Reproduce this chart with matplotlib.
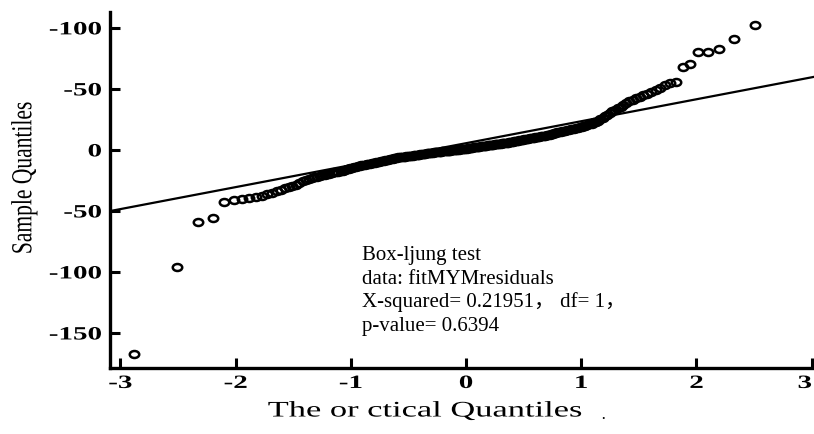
from statistics import NormalDist

import matplotlib
matplotlib.use("Agg")
import matplotlib.pyplot as plt
from matplotlib.patheffects import AbstractPathEffect
from matplotlib.path import Path
from matplotlib.transforms import Affine2D

# sorted residuals (sample quantiles)
sample = [
    -167, -96, -59, -56, -43, -41, -40, -39, -38.5, -37.5,
    -36, -35, -33.5, -32.5, -31.5, -30.5, -29.5, -28.5, -27, -25.5,
    -24.4, -23.8, -23.2, -22.6, -22.0, -21.4, -20.8, -20.2,
    -19.8, -19.4, -19.0, -18.5, -18.1, -17.7, -17.3, -16.9, -16.5, -16.0,
    -15.6, -15.2, -14.8, -14.4, -14.0, -13.5, -13.1, -12.7,
    -12.4, -12.1, -11.8, -11.6, -11.3, -11.0, -10.7, -10.5, -10.2, -9.9,
    -9.6, -9.4, -9.1, -8.8, -8.5, -8.3, -8.0, -7.7, -7.4, -7.2, -6.9, -6.6,
    -6.4, -6.2, -6.1, -5.9, -5.8, -5.6, -5.5, -5.3, -5.2, -5.0,
    -4.9, -4.7, -4.6, -4.4, -4.3, -4.1, -4.0, -3.8, -3.7, -3.5,
    -3.4, -3.2, -3.1, -2.9, -2.8, -2.6, -2.5,
    -2.4, -2.3, -2.1, -2.0, -1.9, -1.8, -1.7, -1.6, -1.4, -1.3,
    -1.2, -1.1, -1.0, -0.9, -0.7, -0.6, -0.5, -0.4, -0.3, -0.2,
    0.0, 0.1, 0.2, 0.3, 0.4, 0.5, 0.7, 0.8, 0.9, 1.0,
    1.1, 1.3, 1.4, 1.6, 1.7, 1.8, 2.0, 2.1, 2.3, 2.4,
    2.5, 2.7, 2.8, 3.0, 3.1, 3.2, 3.4, 3.5, 3.7, 3.8,
    3.9, 4.1, 4.2, 4.4, 4.5, 4.6, 4.8, 4.9, 5.1, 5.2,
    5.3, 5.5, 5.6, 5.8, 5.9, 6.0, 6.2, 6.3, 6.5,
    6.7, 6.9, 7.1, 7.3, 7.5, 7.8, 8.0, 8.2, 8.4, 8.6,
    8.8, 9.0, 9.2, 9.5, 9.7, 9.9, 10.1, 10.3, 10.5, 10.7,
    10.9, 11.2, 11.4, 11.6, 11.8, 12.0,
    12.3, 12.6, 13.0, 13.3, 13.6, 14.0, 14.3, 14.6, 14.9, 15.3,
    15.6, 15.9, 16.3, 16.6, 16.9, 17.2, 17.5, 17.8, 18.2, 18.5,
    19.0, 19.5, 20.0, 20.5, 21.0, 21.5,
    22.5, 23, 24, 25, 26, 27.5, 29, 30.5, 32, 33,
    34.5, 35.5, 37, 38.5, 40, 41, 42.5, 43.5, 45, 46,
    47.5, 49, 51, 53, 55, 56, 68, 70, 80, 80,
    83, 91, 102, 130,
]
line_intercept = 5.5
line_slope = 18.0

x_ticks = [-3, -2, -1, 0, 1, 2, 3]
x_tick_labels = ["-3", "-2", "-1", "0", "1", "2", "3"]
y_ticks = [100, 50, 0, -50, -100, -150]
y_tick_labels = ["-100", "-50", "0", "-50", "-100", "-150"]

test_lines = [
    "Box-ljung test",
    "data: fitMYMresiduals",
    "X-squared= 0.21951\uff0c df= 1\uff0c",
    "p-value= 0.6394",
]


class Stretch(AbstractPathEffect):
    # widen glyphs on screen, the scan of the original is stretched sideways
    def __init__(self, sx=1.0, sy=1.0, anchor=0.5):
        super().__init__()
        self.sx, self.sy, self.anchor = sx, sy, anchor

    def draw_path(self, renderer, gc, tpath, affine, rgbFace=None):
        ext = tpath.get_extents()
        cx = ext.x0 + self.anchor * ext.width
        cy = ext.y0 + 0.5 * ext.height
        t = Affine2D().translate(-cx, -cy).scale(self.sx, self.sy).translate(cx, cy)
        renderer.draw_path(gc, tpath, t + affine, rgbFace)


n = len(sample)
theo = [NormalDist().inv_cdf((i + 0.5) / n) for i in range(n)]

serif = "Liberation Serif"
fig = plt.figure(figsize=(8.14, 4.34), dpi=100)
ax = fig.add_axes([110 / 814, 66 / 434, 704 / 814, 356 / 434])

ellipse = Path(Affine2D().scale(1.35, 1.0).transform_path(Path.unit_circle()).vertices,
               Path.unit_circle().codes)
ax.plot(theo, sample, linestyle="none", marker=ellipse, ms=6.8,
        mfc="none", mec="black", mew=1.8, zorder=3)

xlim = (-3.09, 3.02)
ax.plot(list(xlim), [line_intercept + line_slope * v for v in xlim],
        color="black", lw=1.6, zorder=2)

ax.set_xlim(*xlim)
ax.set_ylim(-178.7, 113)
for side in ("top", "right"):
    ax.spines[side].set_visible(False)
for side in ("left", "bottom"):
    ax.spines[side].set_linewidth(2.4)

ax.set_xticks(x_ticks, x_tick_labels)
ax.set_yticks(y_ticks, y_tick_labels)
ax.tick_params(direction="in", length=7, width=2.2, labelsize=13.5)
ax.tick_params(axis="y", pad=6)
ax.tick_params(axis="x", pad=5)
xlabels = ax.get_xticklabels()
for lab in xlabels:
    lab.set_fontfamily(serif)
    lab.set_fontweight("bold")
    lab.set_path_effects([Stretch(sx=1.55, anchor=0.5)])
# last label sits at the right edge of the figure
xlabels[-1].set_horizontalalignment("right")
xlabels[-1].set_path_effects([Stretch(sx=1.55, anchor=1.0)])
for lab in ax.get_yticklabels():
    lab.set_fontfamily(serif)
    lab.set_fontweight("bold")
    lab.set_path_effects([Stretch(sx=1.55, anchor=1.0)])

fig.text(25 / 814, 1 - 178 / 434, "Sample Quantiles", rotation=90,
         ha="center", va="center", fontsize=15.5, family=serif,
         path_effects=[Stretch(sy=1.35)])
fig.text(425 / 814, 1 - 412 / 434, "The or ctical Quantiles",
         ha="center", va="center", fontsize=16, family=serif,
         path_effects=[Stretch(sx=1.55)])
fig.text(603 / 814, 1 - 420 / 434, "\u00b7", ha="center", va="center",
         fontsize=12, family=serif)

baselines = [260, 283.5, 307, 330.5]
for txt, yb in zip(test_lines, baselines):
    fig.text(362 / 814, 1 - yb / 434, txt, ha="left", va="baseline",
             fontsize=15, family=[serif, "Noto Sans CJK SC"])

fig.savefig("out.png", dpi=100)
